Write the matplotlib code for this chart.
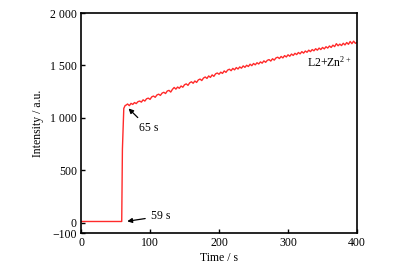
import matplotlib
matplotlib.use("Agg")
import matplotlib.pyplot as plt
import numpy as np

# baseline before the addition of Zn2+
t_base = [0, 59, 60, 62, 64]
i_base = [10, 10, 700, 1090, 1118]

# slow rise after the jump (2.5 s steps, 65 -> 400 s)
t_rise = np.arange(65, 400.1, 2.5)
i_rise = [1120, 1132, 1116, 1138, 1128, 1146, 1136, 1154, 1160, 1150,
          1172, 1160, 1182, 1188, 1176, 1200, 1208, 1196, 1218, 1226,
          1214, 1236, 1244, 1232, 1256, 1262, 1246, 1272, 1290, 1274,
          1294, 1282, 1304, 1292, 1316, 1324, 1310, 1334, 1344, 1330,
          1352, 1338, 1362, 1370, 1356, 1380, 1390, 1376, 1400, 1386,
          1410, 1396, 1420, 1428, 1416, 1436, 1424, 1448, 1434, 1456,
          1464, 1450, 1472, 1458, 1480, 1466, 1486, 1474, 1496, 1482,
          1502, 1490, 1512, 1498, 1519, 1506, 1526, 1514, 1534, 1522,
          1544, 1530, 1549, 1556, 1542, 1564, 1551, 1572, 1579, 1566,
          1586, 1572, 1594, 1581, 1602, 1588, 1609, 1596, 1616, 1604,
          1624, 1611, 1632, 1618, 1638, 1626, 1646, 1632, 1652, 1640,
          1660, 1646, 1666, 1652, 1672, 1658, 1679, 1666, 1686, 1672,
          1694, 1680, 1708, 1688, 1704, 1690, 1712, 1696, 1719, 1702,
          1729, 1708, 1732, 1712, 1720]
assert len(t_rise) == len(i_rise), (len(t_rise), len(i_rise))

x_ticks = [0, 100, 200, 300, 400]
y_ticks = [-100, 0, 500, 1000, 1500, 2000]
y_labels = ["\u2212100", "0", "500", "1 000", "1 500", "2 000"]

plt.rcParams["font.family"] = ["Liberation Serif", "DejaVu Serif"]
plt.rcParams["font.size"] = 8.5
plt.rcParams["mathtext.fontset"] = "custom"
plt.rcParams["mathtext.rm"] = "Liberation Serif"

fig = plt.figure(figsize=(4.03, 2.73), dpi=100)
ax = fig.add_axes([0.201, 0.1465, 0.685, 0.8055])

ax.plot(list(t_base) + list(t_rise), i_base + i_rise, color="#ff2a2a", linewidth=1.0)

ax.set_xlim(0, 400)
ax.set_ylim(-100, 2000)
ax.set_xticks(x_ticks)
ax.set_yticks(y_ticks)
ax.set_yticklabels(y_labels)
ax.tick_params(direction="in", length=3, width=1, pad=3)
for s in ax.spines.values():
    s.set_linewidth(1.2)

ax.set_xlabel("Time / s", labelpad=2)
ax.set_ylabel("Intensity / a.u.", labelpad=4)

arrow = dict(arrowstyle="-|>", color="black", lw=0.9, mutation_scale=7)
ax.annotate("59 s", xy=(63, 8), xytext=(101, 60), arrowprops=arrow,
            va="center", ha="left")
ax.annotate("65 s", xy=(66, 1108), xytext=(98, 900), arrowprops=arrow,
            va="center", ha="center")
ax.text(393, 1530, "L2+Zn$\\mathregular{^{2+}}$", ha="right", va="center")

fig.savefig("out.png", dpi=100)
